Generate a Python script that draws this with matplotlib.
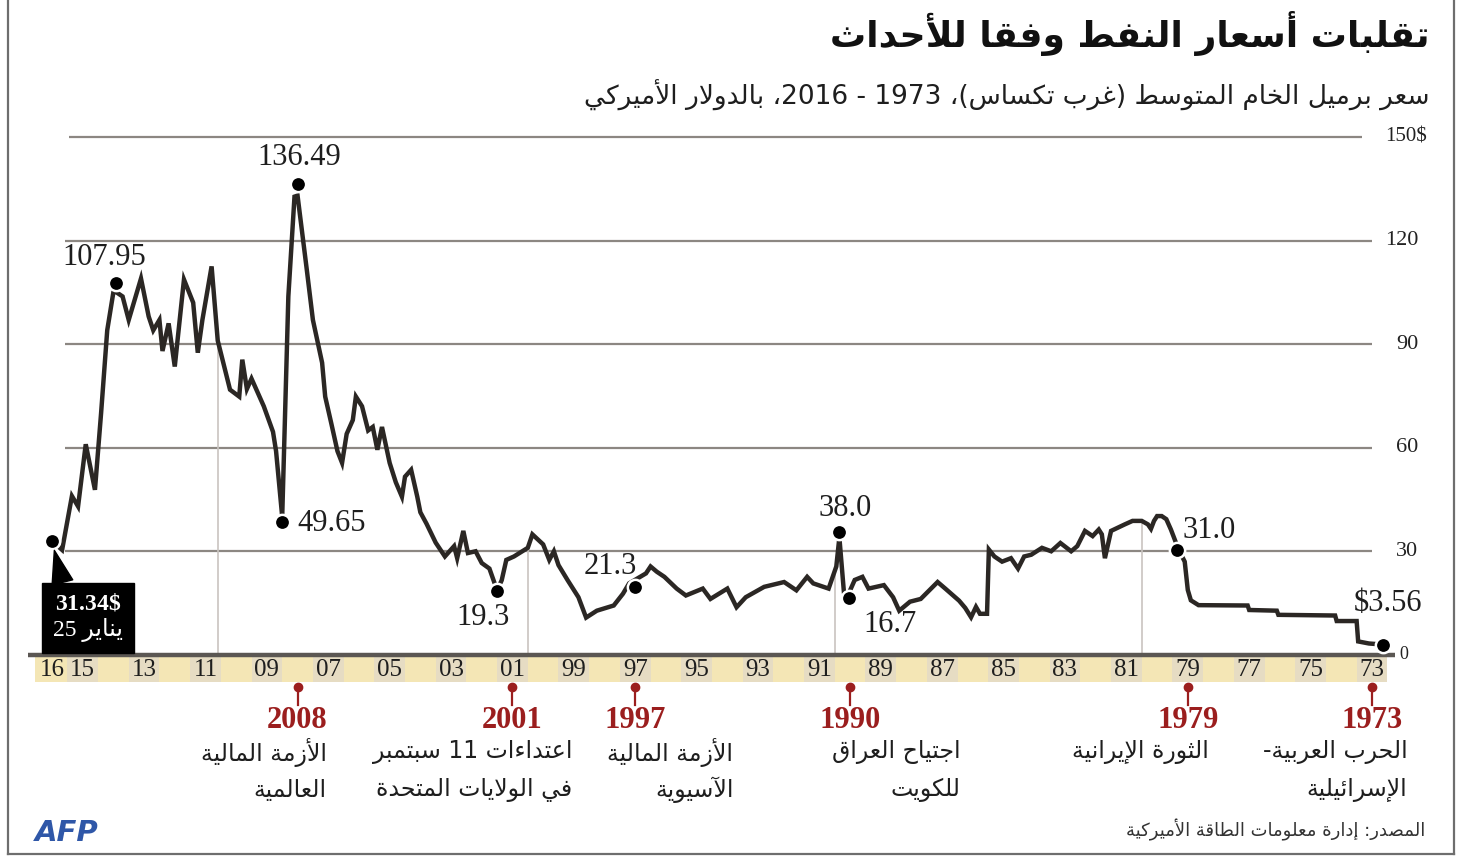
import re

import matplotlib
matplotlib.use("Agg")
import matplotlib.pyplot as plt
import matplotlib.transforms as mtransforms
import numpy as np
from matplotlib.lines import Line2D

# --- data (decimal year, $ per barrel) ---
years = [1972.65, 1973.1, 1973.45, 1973.5, 1974.15, 1974.2, 1976.05, 1976.1,
         1977.0, 1977.05, 1978.65, 1978.9, 1979.0, 1979.1, 1979.3, 1979.55,
         1979.7, 1979.85, 1980.0, 1980.1, 1980.2, 1980.3, 1980.5, 1980.8,
         1981.05, 1981.4, 1981.5, 1981.7, 1981.8, 1981.9, 1982.1, 1982.35,
         1982.6, 1982.8, 1983.15, 1983.45, 1983.75, 1984.1, 1984.33, 1984.53,
         1984.76, 1985.05, 1985.3, 1985.48, 1985.54, 1985.77, 1985.9, 1986.06,
         1986.25, 1986.45, 1986.9, 1987.15, 1987.7, 1988.05, 1988.4, 1988.6,
         1988.9, 1989.4, 1989.6, 1989.85, 1990.1, 1990.2, 1990.35, 1990.45,
         1990.7, 1991.2, 1991.4, 1991.75, 1992.15, 1992.8, 1993.4, 1993.7,
         1994.0, 1994.55, 1994.8, 1995.35, 1995.65, 1996.05, 1996.3, 1996.5,
         1996.65, 1997.2, 1997.4, 1997.7, 1998.25, 1998.6, 1998.85, 1999.2,
         1999.5, 1999.65, 1999.8, 2000.0, 2000.35, 2000.5, 2000.95, 2001.2,
         2001.35, 2001.5, 2001.75, 2002.0, 2002.2, 2002.45, 2002.6, 2002.8,
         2002.9, 2003.2, 2003.5, 2003.8, 2004.0, 2004.1, 2004.3, 2004.5,
         2004.6, 2004.8, 2005.0, 2005.25, 2005.4, 2005.55, 2005.7, 2005.9,
         2006.1, 2006.2, 2006.4, 2006.55, 2006.7, 2006.9, 2007.1, 2007.2,
         2007.5, 2007.7, 2008.0, 2008.1, 2008.3, 2008.5, 2008.7, 2008.8,
         2009.1, 2009.3, 2009.5, 2009.65, 2009.8, 2009.9, 2010.2, 2010.6,
         2010.8, 2011.1, 2011.25, 2011.4, 2011.7, 2012.0, 2012.2, 2012.4,
         2012.5, 2012.7, 2012.85, 2013.1, 2013.5, 2013.7, 2013.9, 2014.0,
         2014.2, 2014.4, 2014.6, 2014.9, 2015.15, 2015.35, 2015.67, 2016.0]
prices = [3.0, 3.3, 3.9, 9.8, 9.8, 11.4, 11.6, 12.8,
          13.0, 14.3, 14.4, 15.8, 18.8, 27.0, 30.5, 36.3,
          39.3, 40.2, 40.2, 38.8, 36.5, 37.8, 38.8, 38.8,
          37.8, 36.3, 35.9, 28.0, 34.9, 36.3, 34.4, 35.9,
          31.5, 30.0, 32.4, 30.0, 31.0, 29.0, 28.5, 25.0,
          28.0, 27.0, 28.5, 30.5, 11.9, 11.9, 13.9, 10.9,
          13.6, 15.7, 19.2, 21.1, 16.2, 15.4, 12.8, 16.7,
          20.2, 19.2, 22.6, 21.7, 16.7, 18.0, 34.0, 25.6,
          19.2, 20.7, 22.6, 18.7, 21.1, 19.7, 16.7, 13.8,
          19.2, 16.2, 19.2, 17.2, 19.2, 22.6, 24.1, 25.6,
          23.6, 20.7, 17.7, 14.3, 12.8, 10.8, 16.7, 21.6,
          26.0, 30.0, 27.5, 32.0, 34.9, 31.0, 28.5, 27.5,
          21.6, 18.7, 25.0, 26.6, 30.0, 29.5, 35.9, 28.0,
          31.5, 28.5, 32.5, 38.0, 41.3, 45.8, 53.6, 51.6,
          45.8, 50.0, 55.6, 66.0, 59.4, 66.0, 65.0, 72.0,
          74.8, 68.0, 64.0, 55.6, 59.0, 67.0, 74.8, 84.6,
          97.0, 111.6, 133.0, 132.7, 103.8, 40.0, 59.0, 64.6,
          72.0, 76.0, 80.0, 77.0, 85.5, 74.8, 76.8, 91.0,
          112.5, 97.0, 87.5, 102.0, 108.7, 83.5, 96.0, 88.0,
          97.0, 94.0, 98.0, 109.0, 97.0, 103.8, 105.0, 105.0,
          94.0, 70.0, 47.8, 61.0, 43.0, 46.0, 30.4, 33.0]

# highlighted points (where the dots sit) and their printed labels
dot_years = [2016.0, 2013.9, 2008.0, 2008.5, 2001.5, 1997.0, 1990.35, 1990.05, 1979.35, 1972.65]
dot_prices = [33.0, 107.8, 136.5, 38.5, 18.5, 19.6, 35.5, 16.5, 30.5, 2.8]
dot_labels = [None, '107.95', '136.49', '49.65', '19.3', '21.3', '38.0', '16.7', '31.0', '$3.56']
label_offsets = [None, (-9, 18), (1, 19), (11, -1), (-10, -19), (-18, 15), (4, 17), (11, -19), (4, 14), (4, 30)]
label_ha = [None, 'center', 'center', 'left', 'center', 'center', 'center', 'left', 'left', 'center']

tick_years = [2016, 2015, 2013, 2011, 2009, 2007, 2005, 2003, 2001, 1999, 1997, 1995,
              1993, 1991, 1989, 1987, 1985, 1983, 1981, 1979, 1977, 1975, 1973]
tick_labels = ['16', '15', '13', '11', '09', '07', '05', '03', '01', '99', '97', '95',
               '93', '91', '89', '87', '85', '83', '81', '79', '77', '75', '73']
y_ticks = [0, 30, 60, 90, 120, 150]
y_labels = ['0', '30', '60', '90', '120', '150$']
decade_marks = [2010.6, 2000.5, 1990.5, 1980.5]

event_years = [2008, 2001, 1997, 1990, 1979, 1973]
event_text = [['الأزمة المالية', 'العالمية'],
              ['اعتداءات 11 سبتمبر', 'في الولايات المتحدة'],
              ['الأزمة المالية', 'الآسيوية'],
              ['اجتياح العراق', 'للكويت'],
              ['الثورة الإيرانية', ''],
              ['الحرب العربية-', 'الإسرائيلية']]
event_text_shift = [-0.95, -1.95, -3.2, -3.6, -0.7, -1.15]  # right edge of caption, in years

title = 'تقلبات أسعار النفط وفقا للأحداث'
subtitle = 'سعر برميل الخام المتوسط (غرب تكساس)، 1973 - 2016، بالدولار الأميركي'
source = 'المصدر: إدارة معلومات الطاقة الأميركية'
last_price = '31.34$'
last_date = 'يناير'


# --- minimal Arabic shaping (matplotlib has no bidi / contextual forms) ---
_LETTERS = [('\u0621', 0xFE80, 0), ('\u0622', 0xFE81, 1), ('\u0623', 0xFE83, 1),
            ('\u0624', 0xFE85, 1), ('\u0625', 0xFE87, 1), ('\u0626', 0xFE89, 2),
            ('\u0627', 0xFE8D, 1), ('\u0628', 0xFE8F, 2), ('\u0629', 0xFE93, 1),
            ('\u062A', 0xFE95, 2), ('\u062B', 0xFE99, 2), ('\u062C', 0xFE9D, 2),
            ('\u062D', 0xFEA1, 2), ('\u062E', 0xFEA5, 2), ('\u062F', 0xFEA9, 1),
            ('\u0630', 0xFEAB, 1), ('\u0631', 0xFEAD, 1), ('\u0632', 0xFEAF, 1),
            ('\u0633', 0xFEB1, 2), ('\u0634', 0xFEB5, 2), ('\u0635', 0xFEB9, 2),
            ('\u0636', 0xFEBD, 2), ('\u0637', 0xFEC1, 2), ('\u0638', 0xFEC5, 2),
            ('\u0639', 0xFEC9, 2), ('\u063A', 0xFECD, 2), ('\u0641', 0xFED1, 2),
            ('\u0642', 0xFED5, 2), ('\u0643', 0xFED9, 2), ('\u0644', 0xFEDD, 2),
            ('\u0645', 0xFEE1, 2), ('\u0646', 0xFEE5, 2), ('\u0647', 0xFEE9, 2),
            ('\u0648', 0xFEED, 1), ('\u0649', 0xFEEF, 1), ('\u064A', 0xFEF1, 2)]
_JT = {c: t for c, b, t in _LETTERS}
_BASE = {c: b for c, b, t in _LETTERS}
_LAMALEF = {'\u0622': 0xFEF5, '\u0623': 0xFEF7, '\u0625': 0xFEF9, '\u0627': 0xFEFB}


def shape(s):
    out = []
    i = 0
    while i < len(s):
        c = s[i]
        if c not in _JT:
            out.append(c)
            i += 1
            continue
        prev = s[i - 1] if i > 0 else ''
        joins_prev = _JT.get(prev, 0) == 2 and _JT[c] > 0
        if c == '\u0644' and i + 1 < len(s) and s[i + 1] in _LAMALEF:
            out.append(chr(_LAMALEF[s[i + 1]] + (1 if joins_prev else 0)))
            i += 2
            continue
        nxt = s[i + 1] if i + 1 < len(s) else ''
        joins_next = _JT[c] == 2 and _JT.get(nxt, 0) > 0
        if _JT[c] == 0:
            form = 0
        elif joins_prev and joins_next:
            form = 3
        elif joins_prev:
            form = 1
        elif joins_next:
            form = 2
        else:
            form = 0
        out.append(chr(_BASE[c] + form))
        i += 1
    return ''.join(out)


def ar(s):
    ''' right-to-left visual string ready for matplotlib '''
    v = shape(s)[::-1].translate(str.maketrans('()', ')('))
    return re.sub(r'[0-9A-Za-z.$]+', lambda m: m.group(0)[::-1], v)


serif = 'Liberation Serif'
arfont = 'DejaVu Sans'
plt.rcParams['mathtext.fontset'] = 'custom'
plt.rcParams['mathtext.bf'] = 'Liberation Serif:bold'
plt.rcParams['mathtext.rm'] = 'Liberation Serif'

# --- figure ---
W, H = 1467, 856
fig = plt.figure(figsize=(W / 100, H / 100), dpi=100)
fig.patch.set_facecolor('white')
ax = fig.add_axes([40 / W, 1 - 687 / H, 1355 / W, 557 / H])
ax.set_xlim(2016.39, 1972.25)
ax.set_ylim(-9.3, 152)
ax.axis('off')

line_col = '#2b2724'
grid_col = '#8c8782'

# horizontal grid lines + right-hand labels
for v, lab in zip(y_ticks, y_labels):
    if v == 0:
        ax.text(1972.25 - 0.15, v, lab, ha='left', va='center', fontsize=13,
                family=serif, color='#222', clip_on=False)
        continue
    x0 = 2015.45 if v == 150 else 2015.57
    x1 = 1973.33 if v == 150 else 1973.0
    ax.hlines(v, x0, x1, color=grid_col, lw=1.6, zorder=1)
    ax.text(1971.5 if v < 150 else 1971.2, v, lab, ha='right', va='center',
            fontsize=16 if v < 150 else 15, family=serif, color='#222', clip_on=False)

# thin decade separators from the baseline up to the price line
yrs = np.array(years)
pr = np.array(prices)
for d in decade_marks:
    ax.vlines(d, 0, np.interp(d, yrs, pr), color='#c9c4c0', lw=1.2, zorder=1)

# year band below the axis
ax.fill_between([2016.55, 1972.5], -7.9, -0.7, color='#f4e6b5', lw=0, zorder=1,
                clip_on=False)
odd_years = [y for y in tick_years if y % 2 == 1]
ax.bar(odd_years, 7.2, bottom=-7.9, width=1.0, color='#e6dcc3', lw=0, zorder=1,
       clip_on=False)
for y, lab in zip(tick_years, tick_labels):
    ax.text(y, -4.4, lab, ha='center', va='center', fontsize=18, family=serif,
            color='#1e1e1e', clip_on=False, zorder=3)
ax.hlines(0, 2016.78, 1972.25, color='#5b5753', lw=3.2, zorder=2, clip_on=False)

# price line
ax.plot(years, prices, color=line_col, lw=3.2, solid_joinstyle='miter', zorder=4)
ax.plot(dot_years, dot_prices, 'o', ms=11, mfc='black', mec='white', mew=1.8,
        zorder=6, clip_on=False)
for x, y, lab, off, ha in zip(dot_years, dot_prices, dot_labels, label_offsets, label_ha):
    if lab is None:
        continue
    ax.annotate(lab, (x, y), xytext=off, textcoords='offset points', ha=ha,
                va='center', fontsize=22, family=serif, color='#1e1e1e', zorder=7)

# black call-out for the last value
box_txt = r'$\mathbf{' + last_price.replace('$', r'\$') + '}$\n25 ' + ar(last_date)
ax.annotate(box_txt, (dot_years[0], dot_prices[0]),
            xytext=(26, -55), textcoords='offset points', ha='center', va='center',
            fontsize=17, family=[serif, arfont], color='white', linespacing=1.2,
            bbox=dict(boxstyle='square,pad=0.45', fc='black', ec='black'),
            arrowprops=dict(arrowstyle='wedge,tail_width=0.9,shrink_factor=0.5',
                            fc='black', ec='black', relpos=(0.17, 1.0),
                            shrinkA=0, shrinkB=7),
            zorder=6, annotation_clip=False)

# events under the time band
tr = mtransforms.blended_transform_factory(ax.transData, fig.transFigure)
red = '#9b1e1e'
for ey, lines, sh in zip(event_years, event_text, event_text_shift):
    ax.plot([ey, ey], [0.197, 0.176], color=red, lw=1.6, transform=tr,
            clip_on=False, zorder=3)
    ax.plot([ey], [0.197], 'o', ms=6, color=red, transform=tr, clip_on=False, zorder=3)
    ax.text(ey, 0.158, str(ey), ha='center', va='center', fontsize=22, family=serif,
            weight='bold', color=red, transform=tr)
    ax.text(ey + sh, 0.121, ar(lines[0]), ha='right', va='center', fontsize=17,
            family=arfont, color='#1e1e1e', transform=tr)
    if lines[1]:
        ax.text(ey + sh, 0.077, ar(lines[1]), ha='right', va='center', fontsize=17,
                family=arfont, color='#1e1e1e', transform=tr)

# titles, source, logo
fig.text(1430 / W, 1 - 34 / H, ar(title), ha='right', va='center', fontsize=26,
         family=arfont, weight='bold', color='#111')
fig.text(1430 / W, 1 - 95 / H, ar(subtitle), ha='right', va='center', fontsize=19,
         family=arfont, color='#1e1e1e')
fig.text(1425 / W, 1 - 830 / H, ar(source), ha='right', va='center', fontsize=13,
         family=arfont, color='#333')
fig.text(35 / W, 1 - 833 / H, 'AFP', ha='left', va='center', fontsize=21,
         family='DejaVu Sans', weight='bold', style='italic', color='#2f57a8')

# outer frame
for xs, ys in [([8, 8], [0, 854]), ([1454, 1454], [0, 854]), ([8, 1454], [854, 854])]:
    fig.add_artist(Line2D([x / W for x in xs], [1 - y / H for y in ys],
                          color='#6e6e6e', lw=1.6))

fig.savefig('out.png', dpi=100)
